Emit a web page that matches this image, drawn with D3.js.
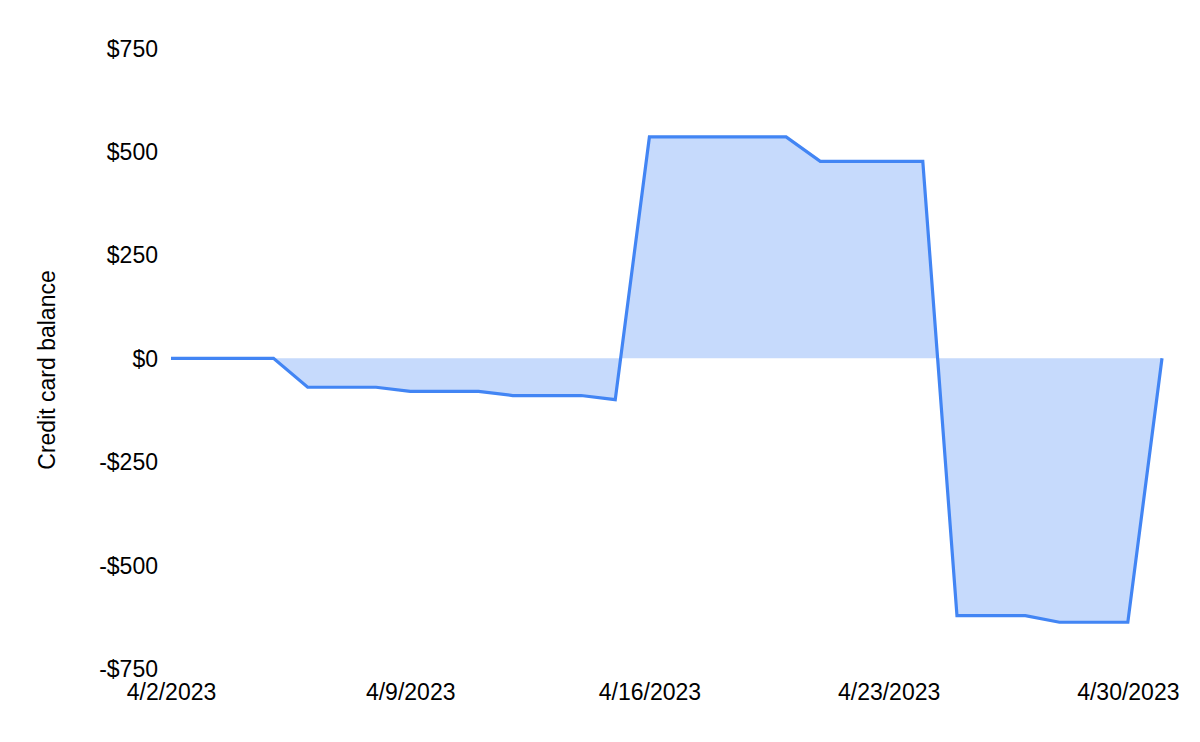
<!DOCTYPE html>
<html>
<head>
<meta charset="utf-8">
<script src="https://cdn.jsdelivr.net/npm/d3@7"></script>
<style>
  html, body { margin: 0; padding: 0; background: #fff; }
  svg { display: block; font-family: "Liberation Sans", Arial, sans-serif; }
</style>
</head>
<body>
<svg id="chart" width="1200" height="742"></svg>
<script>
const dates = ["2023-04-02","2023-04-03","2023-04-04","2023-04-05","2023-04-06","2023-04-07","2023-04-08",
  "2023-04-09","2023-04-10","2023-04-11","2023-04-12","2023-04-13","2023-04-14","2023-04-15",
  "2023-04-16","2023-04-17","2023-04-18","2023-04-19","2023-04-20","2023-04-21","2023-04-22",
  "2023-04-23","2023-04-24","2023-04-25","2023-04-26","2023-04-27","2023-04-28","2023-04-29",
  "2023-04-30","2023-05-01"];
const balances = [0, 0, 0, 0, -70, -70, -70,
  -80, -80, -80, -90, -90, -90, -100,
  535, 535, 535, 535, 535, 476, 476,
  476, 476, -622, -622, -622, -638, -638,
  -638, 0];
const yTicks = [750, 500, 250, 0, -250, -500, -750];
const xTickDates = ["2023-04-02","2023-04-09","2023-04-16","2023-04-23","2023-04-30"];
const yTitle = "Credit card balance";

const parse = d3.utcParse("%Y-%m-%d");
const data = dates.map((d, i) => ({ date: parse(d), value: balances[i] }));

const svg = d3.select("#chart");
const x = d3.scaleUtc().domain([parse(dates[0]), parse(dates[dates.length - 1])]).range([171, 1162]);
const y = d3.scaleLinear().domain([-750, 750]).range([668.6, 48]);

const fmtMoney = v => (v < 0 ? "-$" : "$") + Math.abs(v);
const fmtDate = d3.utcFormat("%-m/%-d/%Y");
const FS = 23;

// area
svg.append("path")
  .datum(data)
  .attr("fill", "#C6DAFC")
  .attr("d", d3.area().x(d => x(d.date)).y0(y(0)).y1(d => y(d.value)));

// line
svg.append("path")
  .datum(data)
  .attr("fill", "none")
  .attr("stroke", "#4285F4")
  .attr("stroke-width", 3.2)
  .attr("stroke-linejoin", "miter")
  .attr("d", d3.line().x(d => x(d.date)).y(d => y(d.value)));

// y axis
const yAxis = svg.append("g")
  .attr("transform", "translate(158,0)")
  .call(d3.axisLeft(y).tickValues(yTicks).tickFormat(fmtMoney).tickSize(0).tickPadding(0));
yAxis.select(".domain").remove();
yAxis.selectAll("text")
  .attr("font-size", FS)
  .attr("font-family", "Liberation Sans, Arial, sans-serif")
  .attr("fill", "#000")
  .attr("dy", "0.35em");

// x axis
const xAxis = svg.append("g")
  .attr("transform", "translate(0,670)")
  .call(d3.axisBottom(x).tickValues(xTickDates.map(parse)).tickFormat(fmtDate).tickSize(0).tickPadding(0));
xAxis.select(".domain").remove();
xAxis.selectAll("text")
  .attr("font-size", FS)
  .attr("font-family", "Liberation Sans, Arial, sans-serif")
  .attr("fill", "#000")
  .attr("dy", "0")
  .attr("y", 30);

// y title
svg.append("text")
  .attr("transform", "translate(55,370) rotate(-90)")
  .attr("text-anchor", "middle")
  .attr("font-size", FS)
  .attr("fill", "#000")
  .text(yTitle);
</script>
</body>
</html>
